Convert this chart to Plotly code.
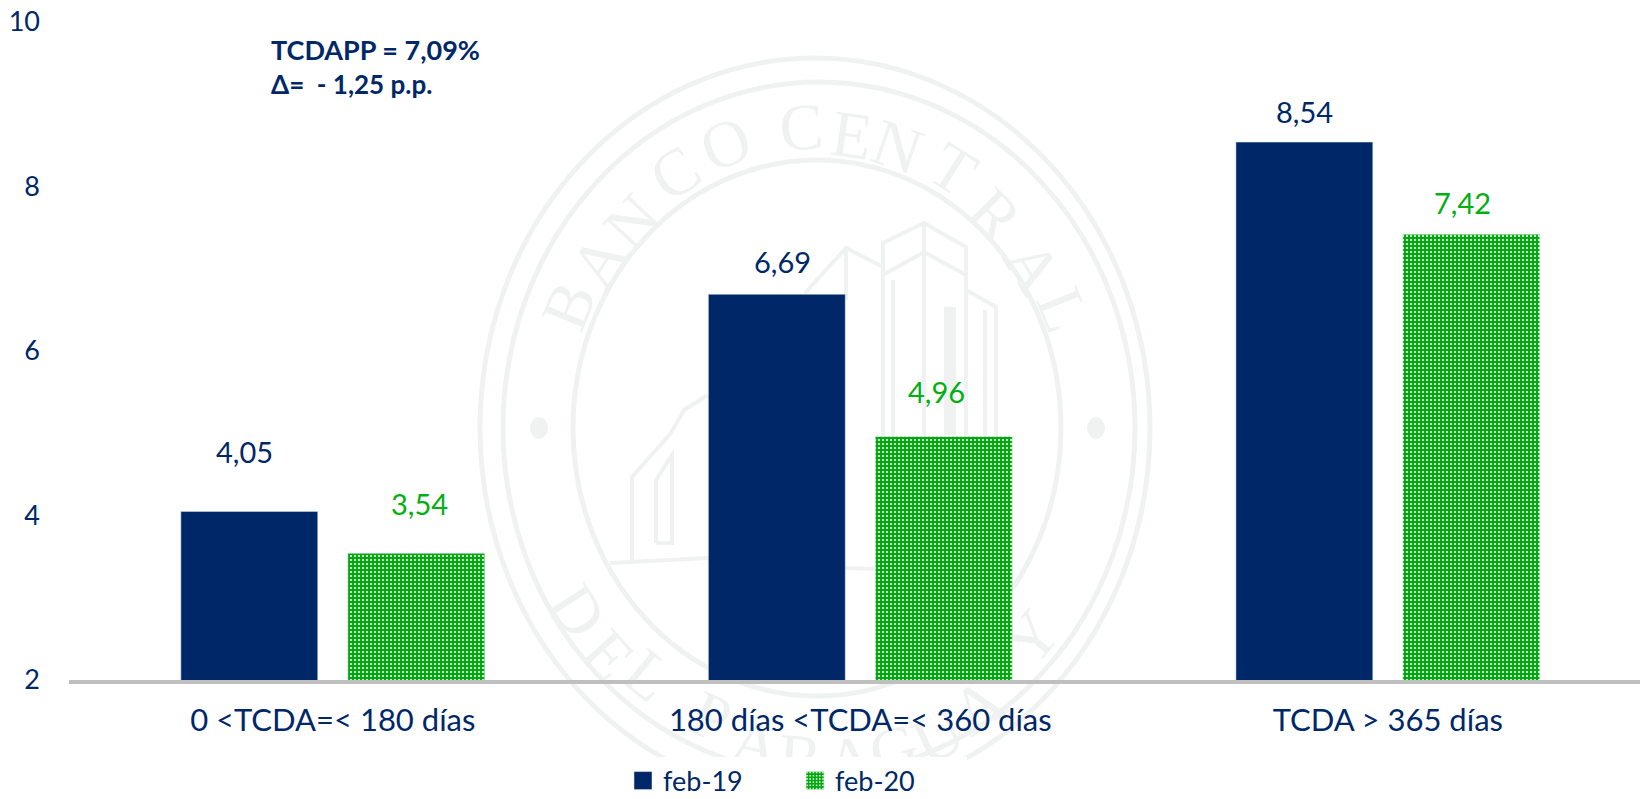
import math
import plotly.graph_objects as go

categories = ["0 <TCDA=< 180 días", "180 días <TCDA=< 360 días", "TCDA > 365 días"]
feb19 = [4.05, 6.69, 8.54]
feb20 = [3.54, 4.96, 7.42]
label_dx_19 = [-5, 6, 0]
label_dy_19 = [60, 33, 31]
label_dx_20 = [3, -7, -9]
label_dy_20 = [50, 45, 32]

fmt = lambda v: f"{v:.2f}".replace(".", ",")
NAVY = "#002868"
GREEN = "#00A80E"
LABEL_GREEN = "#00AF10"
FONT = "Lato"
W, H = 1640, 799
L, T, B = 69, 22, 680
WM = "#F0F2F2"
SLOT = 0.158

def px(x): return (x - L) / (W - L)
def py(y): return (B - y) / (B - T)

fig = go.Figure()
fig.add_bar(name="feb-19", x=categories, y=feb19, marker_color=NAVY)
fig.add_bar(name="feb-20", x=categories, y=feb20,
            marker=dict(color=GREEN, pattern=dict(shape=".", fgcolor="#FFFFFF", bgcolor=GREEN,
                                                  size=4, solidity=0.24, fillmode="replace")))

# watermark seal, behind everything
shapes = []
for cx, cy, rx, ry, lw in [(815, 428, 335, 370, 5), (819, 428, 316, 346, 5), (817, 428, 244, 268, 5)]:
    shapes.append(dict(type="circle", xref="paper", yref="paper", layer="below",
                       x0=px(cx - rx), x1=px(cx + rx), y0=py(cy + ry), y1=py(cy - ry),
                       line=dict(color=WM, width=lw)))
for x, y in [(539, 428), (1096, 428)]:
    shapes.append(dict(type="circle", xref="paper", yref="paper", layer="below",
                       x0=px(x - 9), x1=px(x + 9), y0=py(y + 11), y1=py(y - 11),
                       fillcolor=WM, line=dict(width=0)))

def polyline(pts, width=4):
    d = "M" + " L".join(f"{px(x):.5f},{py(y):.5f}" for x, y in pts)
    shapes.append(dict(type="path", xref="paper", yref="paper", layer="below", path=d,
                       line=dict(color=WM, width=width)))

polyline([(883, 560), (883, 243), (924, 223), (966, 247), (966, 560)])
polyline([(883, 275), (924, 252), (966, 275)])
polyline([(924, 223), (924, 560)])
polyline([(893, 280), (893, 560)])
polyline([(966, 290), (996, 307), (996, 560)])
polyline([(985, 310), (985, 560)])
polyline([(805, 293), (846, 248), (883, 267)])
polyline([(846, 248), (846, 300)])
polyline([(632, 560), (632, 477), (671, 433), (684, 410), (708, 395)])
polyline([(656, 543), (656, 480), (672, 455), (672, 543), (656, 543)])
polyline([(610, 563), (708, 558), (840, 568), (1000, 572)])
polyline([(950, 307), (950, 435)], width=12)

top_letters = [("B", 562, 303), ("A", 593, 257), ("N", 627, 217), ("C", 671, 167), ("O", 723, 137),
               ("C", 801, 120), ("E", 853, 128), ("N", 900, 140), ("T", 957, 163), ("R", 1000, 210),
               ("A", 1039, 263), ("L", 1070, 307)]
bottom_letters = [("D", 584, 607), ("E", 614, 650), ("L", 653, 670), ("P", 714, 710), ("A", 757, 737),
                  ("R", 801, 750), ("A", 849, 753), ("G", 892, 743), ("U", 935, 730), ("A", 974, 700),
                  ("Y", 1026, 633)]
CX, CY, RX, RY = 817, 428, 280, 307

def letter(ch, x, y, top):
    nx, ny = (x - CX) / RX ** 2, (y - CY) / RY ** 2
    angle = math.degrees(math.atan2(nx, -ny)) if top else math.degrees(math.atan2(-nx, ny))
    shapes.append(dict(type="rect", xref="paper", yref="paper", layer="below",
                       x0=px(x - 1), x1=px(x + 1), y0=py(y + 1), y1=py(y - 1),
                       line=dict(width=0), fillcolor="rgba(0,0,0,0)",
                       label=dict(text=ch, textangle=round(angle, 1), textposition="middle center",
                                  font=dict(family="Liberation Serif", size=66, color=WM))))

for ch, x, y in top_letters:
    letter(ch, x, y, True)
for ch, x, y in bottom_letters:
    letter(ch, x, y, False)

annotations = [
    dict(xref="paper", yref="paper", x=px(269), y=py(50), xanchor="left", yanchor="middle",
         showarrow=False, font=dict(size=27, color=NAVY, family=FONT), text="<b>TCDAPP = 7,09%</b>"),
    dict(xref="paper", yref="paper", x=px(269), y=py(84), xanchor="left", yanchor="middle",
         showarrow=False, font=dict(size=26, color=NAVY, family=FONT), text="<b>Δ=  - 1,25 p.p.</b>"),
]
for i, v in enumerate(feb19):
    annotations.append(dict(x=i - SLOT, y=v, text=fmt(v), showarrow=False, xanchor="center", yanchor="middle",
                            xshift=label_dx_19[i], yshift=label_dy_19[i],
                            font=dict(size=29, color=NAVY, family=FONT)))
for i, v in enumerate(feb20):
    annotations.append(dict(x=i + SLOT, y=v, text=fmt(v), showarrow=False, xanchor="center", yanchor="middle",
                            xshift=label_dx_20[i], yshift=label_dy_20[i],
                            font=dict(size=29, color=LABEL_GREEN, family=FONT)))

fig.update_layout(
    width=W, height=H, autosize=False,
    margin=dict(l=L, r=0, t=T, b=H - B, autoexpand=False),
    paper_bgcolor="white", plot_bgcolor="rgba(0,0,0,0)",
    barmode="group", bargap=0.367, bargroupgap=0.18,
    font=dict(family=FONT, color=NAVY, size=25),
    xaxis=dict(range=[-0.5, 2.478], showline=True, linecolor="#BFBFBF", linewidth=4,
               ticks="", ticklabelstandoff=10, tickfont=dict(size=31, color=NAVY), showgrid=False),
    yaxis=dict(range=[2, 10], dtick=2, showgrid=False, zeroline=False, showline=False,
               ticks="", ticklabelstandoff=28, tickfont=dict(size=27, color=NAVY)),
    legend=dict(orientation="h", x=px(623), xanchor="left", y=py(781), yanchor="middle",
                entrywidth=127, entrywidthmode="pixels", font=dict(size=27, color=NAVY)),
    shapes=shapes,
    annotations=annotations,
)
fig.write_html("out.html", config={"displayModeBar": False}, post_script="""
document.body.style.margin='0';
document.querySelectorAll('.legendpoints path').forEach(function(p){p.setAttribute('d','M9,9H-9V-9H9Z');});
""")
